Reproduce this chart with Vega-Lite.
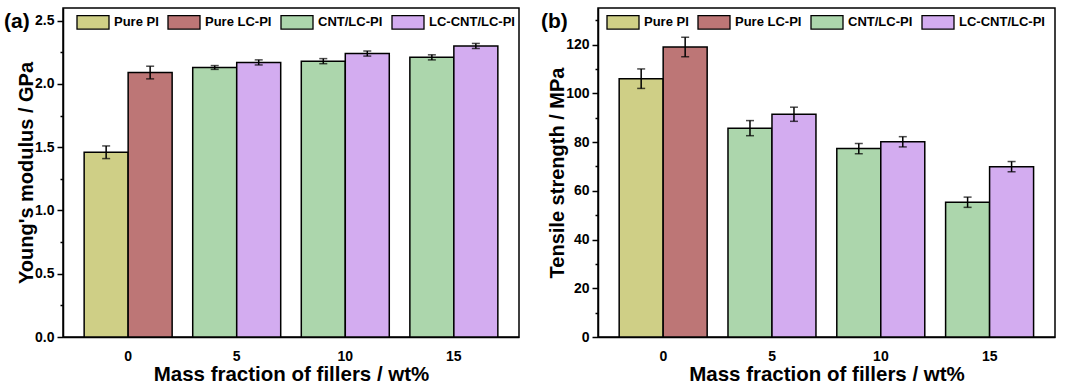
{
  "$schema": "https://vega.github.io/schema/vega-lite/v6.json",
  "background": "white",
  "padding": {"left": 3, "top": 4, "right": 2, "bottom": 0},
  "spacing": 20,
  "datasets": {
    "young": [
      {"g": "0", "s": "Pure PI", "slot": "L", "v": 1.46, "lo": 1.41, "hi": 1.51},
      {"g": "0", "s": "Pure LC-PI", "slot": "R", "v": 2.09, "lo": 2.04, "hi": 2.14},
      {"g": "5", "s": "CNT/LC-PI", "slot": "L", "v": 2.13, "lo": 2.115, "hi": 2.145},
      {"g": "5", "s": "LC-CNT/LC-PI", "slot": "R", "v": 2.17, "lo": 2.15, "hi": 2.19},
      {"g": "10", "s": "CNT/LC-PI", "slot": "L", "v": 2.18, "lo": 2.16, "hi": 2.2},
      {"g": "10", "s": "LC-CNT/LC-PI", "slot": "R", "v": 2.24, "lo": 2.22, "hi": 2.26},
      {"g": "15", "s": "CNT/LC-PI", "slot": "L", "v": 2.21, "lo": 2.19, "hi": 2.23},
      {"g": "15", "s": "LC-CNT/LC-PI", "slot": "R", "v": 2.3, "lo": 2.28, "hi": 2.32}
    ],
    "tensile": [
      {"g": "0", "s": "Pure PI", "slot": "L", "v": 106, "lo": 102, "hi": 110},
      {"g": "0", "s": "Pure LC-PI", "slot": "R", "v": 119, "lo": 115, "hi": 123},
      {"g": "5", "s": "CNT/LC-PI", "slot": "L", "v": 85.7, "lo": 82.6, "hi": 88.8},
      {"g": "5", "s": "LC-CNT/LC-PI", "slot": "R", "v": 91.4, "lo": 88.5, "hi": 94.3},
      {"g": "10", "s": "CNT/LC-PI", "slot": "L", "v": 77.3, "lo": 75.2, "hi": 79.4},
      {"g": "10", "s": "LC-CNT/LC-PI", "slot": "R", "v": 80.1, "lo": 78, "hi": 82.2},
      {"g": "15", "s": "CNT/LC-PI", "slot": "L", "v": 55.3, "lo": 53.2, "hi": 57.4},
      {"g": "15", "s": "LC-CNT/LC-PI", "slot": "R", "v": 69.9, "lo": 67.8, "hi": 72}
    ]
  },
  "config": {
    "font": "Liberation Sans",
    "view": {"stroke": "black", "strokeWidth": 1.5},
    "axis": {
      "domainColor": "black", "domainWidth": 1.5, "tickColor": "black", "tickWidth": 1.5,
      "labelFontWeight": "bold", "labelColor": "black", "labelFontSize": 14,
      "titleFontWeight": "bold", "titleColor": "black", "grid": false
    },
    "axisX": {"titleFontSize": 20.5},
    "axisY": {"titleFontSize": 20},
    "legend": {
      "orient": "none", "direction": "horizontal", "columns": 4, "title": null,
      "labelFontSize": 13, "labelFontWeight": "bold", "labelColor": "black",
      "symbolType": "M-1,-0.42H1V0.42H-1Z", "symbolSize": 1024,
      "symbolStrokeColor": "black", "symbolStrokeWidth": 1.3, "symbolOpacity": 1,
      "labelOffset": 4, "columnPadding": 6, "padding": 0
    },
    "title": {"fontSize": 21, "fontWeight": "bold", "color": "black", "anchor": "start", "frame": "group"}
  },
  "hconcat": [
    {
      "width": 456, "height": 329,
      "title": {"text": "(a)", "dx": -59, "dy": 31},
      "data": {"name": "young"},
      "resolve": {"axis": {"y": "independent"}},
      "layer": [
        {
          "mark": {"type": "bar", "stroke": "black", "strokeWidth": 1.5, "opacity": 1},
          "encoding": {
            "x": {"field": "g", "type": "ordinal", "sort": ["0", "5", "10", "15"],
                  "scale": {"paddingInner": 0, "paddingOuter": 0.1},
                  "axis": {"title": "Mass fraction of fillers / wt%", "labelAngle": 0, "tickSize": 0, "labelPadding": 12, "titlePadding": 1}},
            "xOffset": {"field": "slot", "type": "nominal", "sort": ["L", "R"], "scale": {"paddingInner": 0, "paddingOuter": 0.234}},
            "y": {"field": "v", "type": "quantitative", "scale": {"domain": [0, 2.6], "nice": false},
                  "axis": {"title": "Young's modulus / GPa", "values": [0, 0.5, 1, 1.5, 2, 2.5], "format": ".1f", "tickSize": 6, "labelPadding": 3, "titlePadding": -2}},
            "fill": {"field": "s", "type": "nominal",
                     "scale": {"domain": ["Pure PI", "Pure LC-PI", "CNT/LC-PI", "LC-CNT/LC-PI"], "range": ["#cfcf86", "#bd7676", "#acd6ac", "#d3acf0"]},
                     "legend": {"legendX": 13, "legendY": -3}}
          }
        },
        {
          "mark": {"type": "rule", "color": "black", "strokeWidth": 1.5},
          "encoding": {
            "x": {"field": "g", "type": "ordinal", "sort": ["0", "5", "10", "15"]},
            "xOffset": {"field": "slot", "type": "nominal", "sort": ["L", "R"]},
            "y": {"field": "lo", "type": "quantitative",
                  "axis": {"orient": "left", "title": null, "labels": false, "domain": false, "values": [0.25, 0.75, 1.25, 1.75, 2.25], "tickSize": 3}},
            "y2": {"field": "hi"}
          }
        },
        {
          "mark": {"type": "tick", "color": "black", "thickness": 1.5, "size": 8},
          "encoding": {
            "x": {"field": "g", "type": "ordinal", "sort": ["0", "5", "10", "15"]},
            "xOffset": {"field": "slot", "type": "nominal", "sort": ["L", "R"]},
            "y": {"field": "lo", "type": "quantitative", "axis": null}
          }
        },
        {
          "mark": {"type": "tick", "color": "black", "thickness": 1.5, "size": 8},
          "encoding": {
            "x": {"field": "g", "type": "ordinal", "sort": ["0", "5", "10", "15"]},
            "xOffset": {"field": "slot", "type": "nominal", "sort": ["L", "R"]},
            "y": {"field": "hi", "type": "quantitative", "axis": null}
          }
        }
      ]
    },
    {
      "width": 457, "height": 329,
      "title": {"text": "(b)", "dx": -57, "dy": 31},
      "data": {"name": "tensile"},
      "resolve": {"axis": {"y": "independent"}},
      "layer": [
        {
          "mark": {"type": "bar", "stroke": "black", "strokeWidth": 1.5, "opacity": 1},
          "encoding": {
            "x": {"field": "g", "type": "ordinal", "sort": ["0", "5", "10", "15"],
                  "scale": {"paddingInner": 0, "paddingOuter": 0.1},
                  "axis": {"title": "Mass fraction of fillers / wt%", "labelAngle": 0, "tickSize": 0, "labelPadding": 12, "titlePadding": 1}},
            "xOffset": {"field": "slot", "type": "nominal", "sort": ["L", "R"], "scale": {"paddingInner": 0, "paddingOuter": 0.234}},
            "y": {"field": "v", "type": "quantitative", "scale": {"domain": [0, 135], "nice": false},
                  "axis": {"title": "Tensile strength / MPa", "values": [0, 20, 40, 60, 80, 100, 120], "tickSize": 6, "labelPadding": 3, "titlePadding": -2}},
            "fill": {"field": "s", "type": "nominal",
                     "scale": {"domain": ["Pure PI", "Pure LC-PI", "CNT/LC-PI", "LC-CNT/LC-PI"], "range": ["#cfcf86", "#bd7676", "#acd6ac", "#d3acf0"]},
                     "legend": {"legendX": 8, "legendY": -3}}
          }
        },
        {
          "mark": {"type": "rule", "color": "black", "strokeWidth": 1.5},
          "encoding": {
            "x": {"field": "g", "type": "ordinal", "sort": ["0", "5", "10", "15"]},
            "xOffset": {"field": "slot", "type": "nominal", "sort": ["L", "R"]},
            "y": {"field": "lo", "type": "quantitative",
                  "axis": {"orient": "left", "title": null, "labels": false, "domain": false, "values": [10, 30, 50, 70, 90, 110, 130], "tickSize": 3}},
            "y2": {"field": "hi"}
          }
        },
        {
          "mark": {"type": "tick", "color": "black", "thickness": 1.5, "size": 8},
          "encoding": {
            "x": {"field": "g", "type": "ordinal", "sort": ["0", "5", "10", "15"]},
            "xOffset": {"field": "slot", "type": "nominal", "sort": ["L", "R"]},
            "y": {"field": "lo", "type": "quantitative", "axis": null}
          }
        },
        {
          "mark": {"type": "tick", "color": "black", "thickness": 1.5, "size": 8},
          "encoding": {
            "x": {"field": "g", "type": "ordinal", "sort": ["0", "5", "10", "15"]},
            "xOffset": {"field": "slot", "type": "nominal", "sort": ["L", "R"]},
            "y": {"field": "hi", "type": "quantitative", "axis": null}
          }
        }
      ]
    }
  ],
  "resolve": {"scale": {"fill": "independent"}, "legend": {"fill": "independent"}}
}
